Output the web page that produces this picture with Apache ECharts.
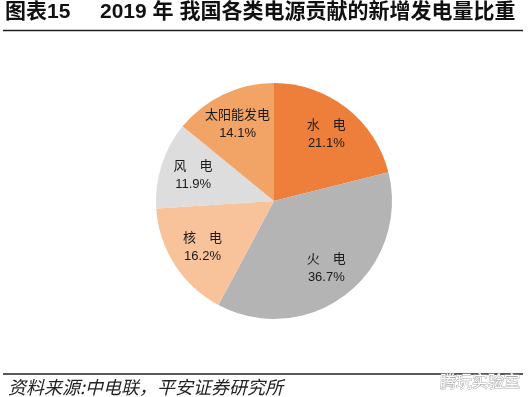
<!DOCTYPE html>
<html><head><meta charset="utf-8">
<script src="https://cdn.jsdelivr.net/npm/echarts@6/dist/echarts.min.js"></script>
<style>html,body{margin:0;padding:0;background:#fff}#c{width:528px;height:397px}</style>
</head><body><div id="c"></div>
<script>
var categories = ['水电', '火电', '核电', '风电', '太阳能发电'];
var labelNames = ['水　电', '火　电', '核　电', '风　电', '太阳能发电'];
var values = [21.1, 36.7, 16.2, 11.9, 14.1];
var colors = ['#EE7F3A', '#B4B4B4', '#F8C39A', '#DDDDDD', '#F2A366'];
var titleText = '图表15';
var titleMain = '2019 年 我国各类电源贡献的新增发电量比重';
var sourceText = '资料来源:中电联，平安证券研究所';
var watermark = '腾玩实验室';

var chart = echarts.init(document.getElementById('c'), null, {renderer: 'canvas'});
var cjk = '"Noto Sans CJK SC", "Liberation Sans", Arial, sans-serif';
var mixed = '"Liberation Sans", "Noto Sans CJK SC", Arial, sans-serif';
var pieData = categories.map(function (c, i) {
  return {name: c, value: values[i], itemStyle: {color: colors[i]}};
});
var labelData = categories.map(function (c, i) {
  return {name: labelNames[i], value: values[i]};
});
chart.setOption({
  animation: false,
  series: [
    {
      type: 'pie', center: [274, 201], radius: [0, 118], startAngle: 90, clockwise: true,
      label: {show: false}, labelLine: {show: false}, silent: true,
      itemStyle: {borderWidth: 0},
      data: pieData
    },
    {
      type: 'pie', center: [274, 201], radius: [46, 118], startAngle: 90, clockwise: true,
      silent: true, itemStyle: {color: 'rgba(0,0,0,0)'},
      label: {
        show: true, position: 'inside', color: '#1a1a1a', fontSize: 13, lineHeight: 18,
        fontFamily: mixed,
        formatter: function (p) { return p.name + '\n' + p.value.toFixed(1) + '%'; }
      },
      labelLine: {show: false},
      data: labelData
    }
  ],
  graphic: [
    {type: 'text', x: 5, y: 12, style: {text: titleText, font: 'bold 21px ' + mixed, fill: '#111', verticalAlign: 'middle'}},
    {type: 'text', x: 100, y: 12, style: {text: titleMain, font: 'bold 21px ' + mixed, fill: '#111', verticalAlign: 'middle'}},
    {type: 'line', shape: {x1: 3, y1: 30.5, x2: 523, y2: 30.5}, style: {stroke: '#222', lineWidth: 1.5}},
    {type: 'line', shape: {x1: 3, y1: 374, x2: 523, y2: 374}, style: {stroke: '#222', lineWidth: 1.5}},
    {type: 'text', x: 8, y: 387, style: {text: sourceText, font: 'italic 18px ' + cjk, fill: '#222', verticalAlign: 'middle'}},
    {type: 'text', x: 440, y: 381, style: {text: watermark, font: '16px ' + cjk, fill: '#fff', stroke: '#aaa', lineWidth: 1, verticalAlign: 'middle'}}
  ]
});
</script></body></html>
